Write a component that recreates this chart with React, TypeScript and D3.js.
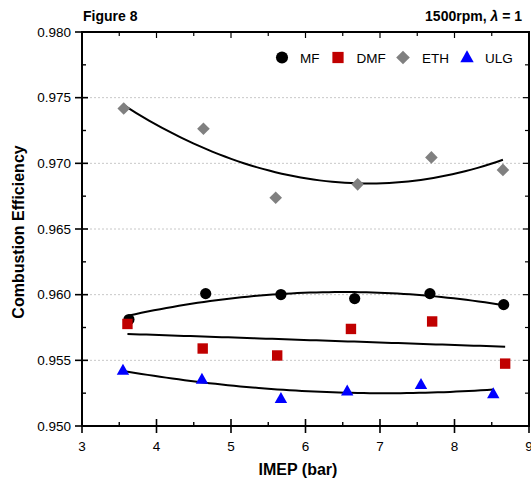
import React from "react";
import * as d3 from "d3";

const seriesNames = ["MF", "DMF", "ETH", "ULG"];
const mfX = [3.63, 4.66, 5.67, 6.66, 7.67, 8.66];
const mfY = [0.95811, 0.96008, 0.96001, 0.9597, 0.96008, 0.95924];
const dmfX = [3.61, 4.62, 5.62, 6.61, 7.7, 8.68];
const dmfY = [0.95777, 0.9559, 0.95537, 0.95739, 0.95796, 0.95475];
const ethX = [3.56, 4.63, 5.6, 6.7, 7.69, 8.65];
const ethY = [0.97417, 0.97263, 0.96738, 0.9684, 0.97045, 0.9695];
const ulgX = [3.55, 4.61, 5.67, 6.56, 7.55, 8.52];
const ulgY = [0.95424, 0.95355, 0.95209, 0.95265, 0.95316, 0.95244];
const fitDegrees = [2, 1, 2, 2];
const xTicks = [3, 4, 5, 6, 7, 8, 9];
const yTicks = [0.95, 0.955, 0.96, 0.965, 0.97, 0.975, 0.98];
const colors = ["#000000", "#C00000", "#808080", "#0000FF"];

const W = 531, H = 479;
const M = { left: 82, right: 529, top: 32, bottom: 426 };
const FONT = "'Liberation Sans', Arial, Helvetica, sans-serif";

function polyfit(xs: number[], ys: number[], deg: number): number[] {
  const n = deg + 1;
  const A: number[][] = [];
  for (let i = 0; i < n; i++) {
    const row: number[] = [];
    for (let j = 0; j < n; j++) row.push(d3.sum(xs, (x) => Math.pow(x, i + j)));
    row.push(d3.sum(xs, (x, k) => Math.pow(x, i) * ys[k]));
    A.push(row);
  }
  for (let c = 0; c < n; c++) {
    let p = c;
    for (let r = c + 1; r < n; r++) if (Math.abs(A[r][c]) > Math.abs(A[p][c])) p = r;
    [A[c], A[p]] = [A[p], A[c]];
    for (let r = 0; r < n; r++) {
      if (r === c) continue;
      const f = A[r][c] / A[c][c];
      for (let k = c; k <= n; k++) A[r][k] -= f * A[c][k];
    }
  }
  return A.map((row, i) => row[n] / row[i]);
}

function Marker({ kind, x, y, s = 1 }: { kind: number; x: number; y: number; s?: number }) {
  const c = colors[kind];
  if (kind === 0) return <circle cx={x} cy={y} r={5.6 * s} fill={c} />;
  if (kind === 1) return <rect x={x - 5.2 * s} y={y - 5.2 * s} width={10.4 * s} height={10.4 * s} fill={c} />;
  if (kind === 2) {
    const d = 6.3 * s;
    return <polygon points={`${x},${y - d} ${x + d},${y} ${x},${y + d} ${x - d},${y}`} fill={c} />;
  }
  const w = 6.2 * s, h = 11 * s;
  return <polygon points={`${x},${y - h * 0.6} ${x + w},${y + h * 0.4} ${x - w},${y + h * 0.4}`} fill={c} />;
}

export default function App() {
  const x = d3.scaleLinear().domain([3, 9]).range([M.left, M.right]);
  const y = d3.scaleLinear().domain([0.95, 0.98]).range([M.bottom, M.top]);
  const data = [
    [mfX, mfY],
    [dmfX, dmfY],
    [ethX, ethY],
    [ulgX, ulgY],
  ];
  const line = d3
    .line<[number, number]>()
    .x((d) => x(d[0]))
    .y((d) => y(d[1]));

  const fits = data.map(([xs, ys], i) => {
    const coef = polyfit(xs, ys, fitDegrees[i]);
    const x0 = d3.min(xs)!, x1 = d3.max(xs)!;
    const pts: [number, number][] = d3.range(0, 61).map((k) => {
      const xv = x0 + ((x1 - x0) * k) / 60;
      const yv = coef.reduce((acc, c, p) => acc + c * Math.pow(xv, p), 0);
      return [xv, yv];
    });
    return line(pts) || "";
  });

  const xMinor = d3.range(3.5, 9, 1);
  const yMinor = d3.range(0.9525, 0.98, 0.005);

  const legendX = [282, 338, 403, 467];
  const legendTextX = [300, 356.5, 422, 485];
  const legendY = 57.5;

  return (
    <svg width={W} height={H} style={{ position: "absolute", left: 0, top: 0 }} fontFamily={FONT}>
      <rect width={W} height={H} fill="#fff" />
      {/* grid */}
      {yTicks.slice(1, -1).map((t) => (
        <line key={"g" + t} x1={M.left} x2={M.right} y1={y(t)} y2={y(t)} stroke="#c8c8c8" strokeWidth={1} strokeDasharray="2,2" />
      ))}
      {/* fits */}
      {fits.map((d, i) => (
        <path key={"f" + i} d={d} fill="none" stroke="#000" strokeWidth={2} />
      ))}
      {/* markers */}
      {data.map(([xs, ys], i) =>
        xs.map((xv, k) => <Marker key={`m${i}-${k}`} kind={i} x={x(xv)} y={y(ys[k])} />)
      )}
      {/* frame */}
      <rect x={M.left} y={M.top} width={M.right - M.left} height={M.bottom - M.top} fill="none" stroke="#000" strokeWidth={2} />
      {/* x ticks */}
      {xTicks.map((t) => (
        <g key={"xt" + t}>
          <line x1={x(t)} x2={x(t)} y1={M.bottom - 7} y2={M.bottom + 7} stroke="#000" strokeWidth={1.6} />
          <line x1={x(t)} x2={x(t)} y1={M.top} y2={M.top + 6} stroke="#000" strokeWidth={1.2} />
          <text x={x(t)} y={M.bottom + 25} textAnchor="middle" fontSize={13.5} fill="#000">
            {t}
          </text>
        </g>
      ))}
      {xMinor.map((t) => (
        <g key={"xm" + t}>
          <line x1={x(t)} x2={x(t)} y1={M.bottom - 4} y2={M.bottom} stroke="#000" strokeWidth={1.4} />
          <line x1={x(t)} x2={x(t)} y1={M.top} y2={M.top + 4} stroke="#000" strokeWidth={1.2} />
        </g>
      ))}
      {/* y ticks */}
      {yTicks.map((t) => (
        <g key={"yt" + t}>
          <line x1={M.left - 7} x2={M.left + 6} y1={y(t)} y2={y(t)} stroke="#000" strokeWidth={1.6} />
          <line x1={M.right - 6} x2={M.right} y1={y(t)} y2={y(t)} stroke="#000" strokeWidth={1.2} />
          <text x={M.left - 11} y={y(t) + 4.8} textAnchor="end" fontSize={13.5} fill="#000">
            {d3.format(".3f")(t)}
          </text>
        </g>
      ))}
      {yMinor.map((t) => (
        <g key={"ym" + t}>
          <line x1={M.left} x2={M.left + 4} y1={y(t)} y2={y(t)} stroke="#000" strokeWidth={1.4} />
          <line x1={M.right - 4} x2={M.right} y1={y(t)} y2={y(t)} stroke="#000" strokeWidth={1.2} />
        </g>
      ))}
      {/* axis titles */}
      <text x={298} y={475} textAnchor="middle" fontSize={16} fontWeight="bold" fill="#000">
        IMEP (bar)
      </text>
      <text transform={`translate(24,232) rotate(-90)`} textAnchor="middle" fontSize={16} fontWeight="bold" fill="#000">
        Combustion Efficiency
      </text>
      {/* titles */}
      <text x={83} y={21} fontSize={14} fontWeight="bold" fill="#000">
        Figure 8
      </text>
      <text x={522} y={21} textAnchor="end" fontSize={14} fontWeight="bold" fill="#000">
        1500rpm, <tspan fontStyle="italic">λ</tspan> = 1
      </text>
      {/* legend */}
      {seriesNames.map((n, i) => (
        <g key={"l" + n}>
          <Marker kind={i} x={legendX[i]} y={legendY} s={1.08} />
          <text x={legendTextX[i]} y={legendY + 5} fontSize={13.5} fill="#000">
            {n}
          </text>
        </g>
      ))}
    </svg>
  );
}
